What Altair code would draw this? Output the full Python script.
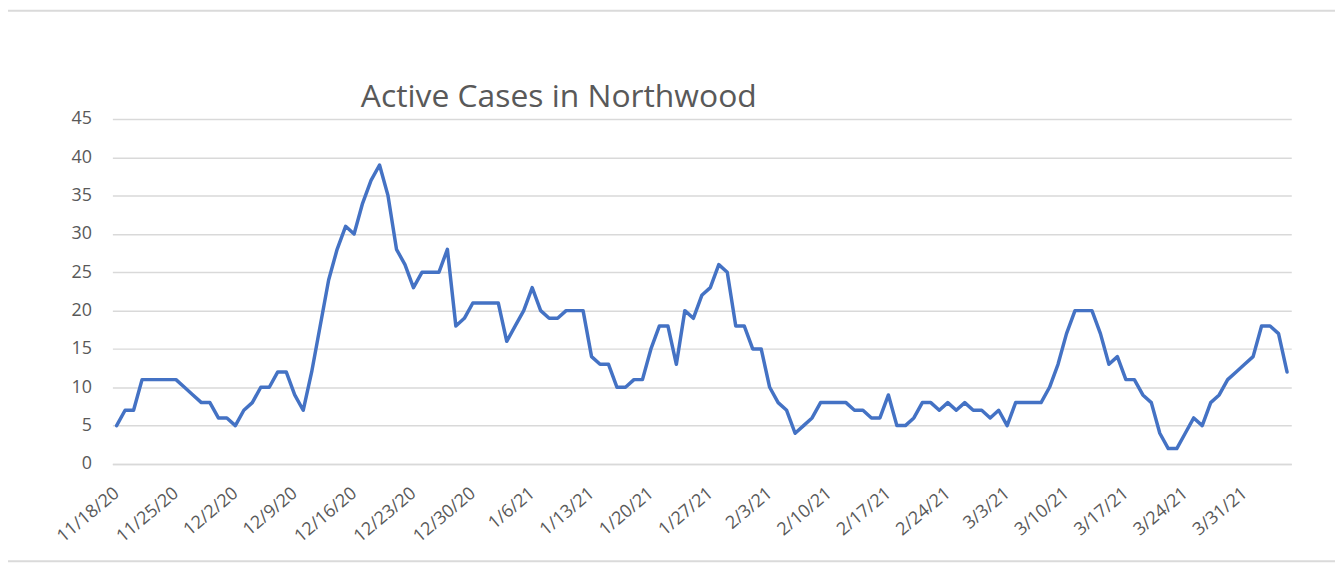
import altair as alt
import pandas as pd

# Daily active cases, 11/18/20 .. 4/5/21
cases = [
    5, 7, 7, 11, 11, 11, 11, 11, 10, 9,
    8, 8, 6, 6, 5, 7, 8, 10, 10, 12,
    12, 9, 7, 12, 18, 24, 28, 31, 30, 34,
    37, 39, 35, 28, 26, 23, 25, 25, 25, 28,
    18, 19, 21, 21, 21, 21, 16, 18, 20, 23,
    20, 19, 19, 20, 20, 20, 14, 13, 13, 10,
    10, 11, 11, 15, 18, 18, 13, 20, 19, 22,
    23, 26, 25, 18, 18, 15, 15, 10, 8, 7,
    4, 5, 6, 8, 8, 8, 8, 7, 7, 6,
    6, 9, 5, 5, 6, 8, 8, 7, 8, 7,
    8, 7, 7, 6, 7, 5, 8, 8, 8, 8,
    10, 13, 17, 20, 20, 20, 17, 13, 14, 11,
    11, 9, 8, 4, 2, 2, 4, 6, 5, 8,
    9, 11, 12, 13, 14, 18, 18, 17, 12,
]
start_date = "2020-11-18"
tick_dates = [
    "2020-11-18", "2020-11-25", "2020-12-02", "2020-12-09", "2020-12-16",
    "2020-12-23", "2020-12-30", "2021-01-06", "2021-01-13", "2021-01-20",
    "2021-01-27", "2021-02-03", "2021-02-10", "2021-02-17", "2021-02-24",
    "2021-03-03", "2021-03-10", "2021-03-17", "2021-03-24", "2021-03-31",
]
y_ticks = [0, 5, 10, 15, 20, 25, 30, 35, 40, 45]
title_text = "Active Cases in Northwood"

dates = pd.date_range(start_date, periods=len(cases), freq="D")
df = pd.DataFrame({"date": dates.strftime("%Y-%m-%dT%H:%M:%S"), "cases": cases})
title_df = pd.DataFrame({"label": [title_text]})


def dt(s, hours=0):
    y, m, d = (int(p) for p in s.split("-"))
    return alt.DateTime(year=y, month=m, date=d, hours=hours)


first = dates[0] - pd.Timedelta(hours=12)
last = dates[-1] + pd.Timedelta(hours=12)
x_domain = [
    alt.DateTime(year=first.year, month=first.month, date=first.day, hours=first.hour),
    alt.DateTime(year=last.year, month=last.month, date=last.day, hours=last.hour),
]

FONT = "Open Sans"
GRAY = "#595959"

line = alt.Chart(df).mark_line(
    color="#4472C4", strokeWidth=3.5, strokeJoin="round", strokeCap="round"
).encode(
    x=alt.X(
        "date:T",
        scale=alt.Scale(domain=x_domain),
        axis=alt.Axis(
            values=[dt(s) for s in tick_dates],
            format="%-m/%-d/%y",
            labelAngle=-40,
            labelAlign="right",
            labelBaseline="middle",
            labelPadding=27,
            labelFontSize=18,
            labelFont=FONT,
            labelColor=GRAY,
            labelOverlap=False,
            labelFlush=False,
            labelBound=False,
            ticks=False,
            grid=False,
            domainColor="#D9D9D9",
            domainWidth=1.5,
            title=None,
        ),
    ),
    y=alt.Y(
        "cases:Q",
        scale=alt.Scale(domain=[0, 45], nice=False, zero=True),
        axis=alt.Axis(
            values=y_ticks,
            labelFontSize=18,
            labelFont=FONT,
            labelColor=GRAY,
            labelPadding=21,
            ticks=False,
            domain=False,
            gridColor="#D9D9D9",
            gridWidth=1.5,
            title=None,
        ),
    ),
)

title = alt.Chart(title_df).mark_text(
    align="left", baseline="alphabetic", fontSize=32, font=FONT,
    fontWeight="normal", color=GRAY,
).encode(
    x=alt.value(250), y=alt.value(-12), text="label:N"
)

top_border = alt.Chart(title_df).mark_rule(color="#DADADA", strokeWidth=2).encode(
    x=alt.value(-107), x2=alt.value(1240), y=alt.value(-109)
)
bottom_border = alt.Chart(title_df).mark_rule(color="#DADADA", strokeWidth=2).encode(
    x=alt.value(-113), x2=alt.value(1240), y=alt.value(445)
)

chart = alt.layer(line, title, top_border, bottom_border).properties(
    width=1186,
    height=347,
    autosize=alt.AutoSizeParams(type="none"),
    padding={"left": 105, "top": 110, "right": 44, "bottom": 100},
).configure_view(stroke=None)

chart.save("out.html", embed_options={"renderer": "svg", "actions": False})
